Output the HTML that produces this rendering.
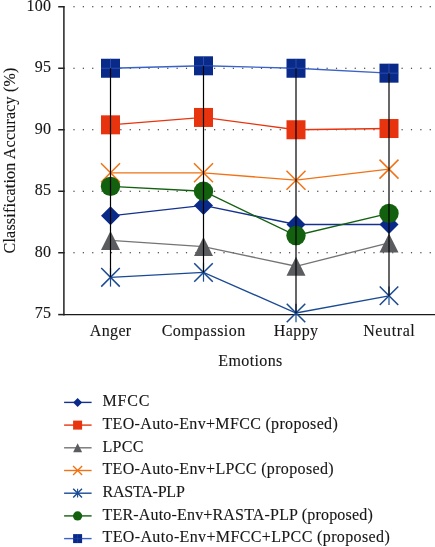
<!DOCTYPE html>
<html><head><meta charset="utf-8"><style>
html,body{margin:0;padding:0;background:#fff;width:435px;height:547px;overflow:hidden}
svg text{-webkit-font-smoothing:antialiased;stroke:#161616;stroke-width:0.12px}
svg{will-change:transform}
</style></head><body><svg width="435" height="547" viewBox="0 0 435 547" style="position:absolute;left:0;top:0;font-family:'Liberation Serif',serif" fill="#161616"><line x1="73.4" y1="6.75" x2="435" y2="6.75" stroke="#1a1a1a" stroke-width="1.1" stroke-dasharray="1.2 8.175"/><line x1="73.4" y1="68.25" x2="435" y2="68.25" stroke="#1a1a1a" stroke-width="1.1" stroke-dasharray="1.2 8.175"/><line x1="73.4" y1="129.75" x2="435" y2="129.75" stroke="#1a1a1a" stroke-width="1.1" stroke-dasharray="1.2 8.175"/><line x1="73.4" y1="191.25" x2="435" y2="191.25" stroke="#1a1a1a" stroke-width="1.1" stroke-dasharray="1.2 8.175"/><line x1="73.4" y1="252.75" x2="435" y2="252.75" stroke="#1a1a1a" stroke-width="1.1" stroke-dasharray="1.2 8.175"/><line x1="63.9" y1="6.15" x2="63.9" y2="315.20" stroke="#222" stroke-width="1.5"/><line x1="63.2" y1="314.60" x2="435" y2="314.60" stroke="#1a1a1a" stroke-width="1.3"/><line x1="58.2" y1="6.75" x2="64.6" y2="6.75" stroke="#222" stroke-width="1.5"/><line x1="58.2" y1="68.25" x2="64.6" y2="68.25" stroke="#222" stroke-width="1.5"/><line x1="58.2" y1="129.75" x2="64.6" y2="129.75" stroke="#222" stroke-width="1.5"/><line x1="58.2" y1="191.25" x2="64.6" y2="191.25" stroke="#222" stroke-width="1.5"/><line x1="58.2" y1="252.75" x2="64.6" y2="252.75" stroke="#222" stroke-width="1.5"/><line x1="58.2" y1="314.60" x2="64.6" y2="314.60" stroke="#222" stroke-width="1.5"/><polyline points="110.50,215.85 203.50,205.40 296.00,224.46 389.00,224.46" fill="none" stroke="#14318f" stroke-width="1.35"/><polyline points="110.50,124.83 203.50,117.45 296.00,129.75 389.00,128.52" fill="none" stroke="#e8340f" stroke-width="1.35"/><polyline points="110.50,240.45 203.50,246.60 296.00,266.28 389.00,242.91" fill="none" stroke="#747474" stroke-width="1.35"/><polyline points="110.50,172.80 203.50,172.80 296.00,180.18 389.00,169.11" fill="none" stroke="#f07214" stroke-width="1.35"/><polyline points="110.50,277.35 203.50,272.43 296.00,313.02 389.00,295.80" fill="none" stroke="#1a4a94" stroke-width="1.35"/><polyline points="110.50,186.33 203.50,191.25 296.00,235.53 389.00,213.39" fill="none" stroke="#13600f" stroke-width="1.35"/><polyline points="110.50,68.25 203.50,65.79 296.00,68.25 389.00,73.17" fill="none" stroke="#3b62c6" stroke-width="1.35"/><path d="M101.00,215.85L110.50,206.35L120.00,215.85L110.50,225.35Z" fill="#0a2a8a"/><path d="M194.00,205.40L203.50,195.90L213.00,205.40L203.50,214.90Z" fill="#0a2a8a"/><path d="M286.50,224.46L296.00,214.96L305.50,224.46L296.00,233.96Z" fill="#0a2a8a"/><path d="M379.50,224.46L389.00,214.96L398.50,224.46L389.00,233.96Z" fill="#0a2a8a"/><rect x="101.00" y="115.33" width="19.00" height="19.00" fill="#e8330f"/><rect x="194.00" y="107.95" width="19.00" height="19.00" fill="#e8330f"/><rect x="286.50" y="120.25" width="19.00" height="19.00" fill="#e8330f"/><rect x="379.50" y="119.02" width="19.00" height="19.00" fill="#e8330f"/><path d="M101.00,249.95L110.50,230.95L120.00,249.95Z" fill="#5a5c5f"/><path d="M194.00,256.10L203.50,237.10L213.00,256.10Z" fill="#5a5c5f"/><path d="M286.50,275.78L296.00,256.78L305.50,275.78Z" fill="#5a5c5f"/><path d="M379.50,252.41L389.00,233.41L398.50,252.41Z" fill="#5a5c5f"/><path d="M101.00,163.30L120.00,182.30M120.00,163.30L101.00,182.30" stroke="#f07214" stroke-width="1.50" fill="none"/><path d="M194.00,163.30L213.00,182.30M213.00,163.30L194.00,182.30" stroke="#f07214" stroke-width="1.50" fill="none"/><path d="M286.50,170.68L305.50,189.68M305.50,170.68L286.50,189.68" stroke="#f07214" stroke-width="1.50" fill="none"/><path d="M379.50,159.61L398.50,178.61M398.50,159.61L379.50,178.61" stroke="#f07214" stroke-width="1.50" fill="none"/><path d="M101.24,268.09L119.76,286.61M119.76,268.09L101.24,286.61" stroke="#1a4a94" stroke-width="1.50" fill="none"/><path d="M110.50,268.09L110.50,286.61" stroke="#1a4a94" stroke-width="1.20" fill="none"/><path d="M194.24,263.17L212.76,281.69M212.76,263.17L194.24,281.69" stroke="#1a4a94" stroke-width="1.50" fill="none"/><path d="M203.50,263.17L203.50,281.69" stroke="#1a4a94" stroke-width="1.20" fill="none"/><path d="M286.74,303.76L305.26,322.28M305.26,303.76L286.74,322.28" stroke="#1a4a94" stroke-width="1.50" fill="none"/><path d="M296.00,303.76L296.00,322.28" stroke="#1a4a94" stroke-width="1.20" fill="none"/><path d="M379.74,286.54L398.26,305.06M398.26,286.54L379.74,305.06" stroke="#1a4a94" stroke-width="1.50" fill="none"/><path d="M389.00,286.54L389.00,305.06" stroke="#1a4a94" stroke-width="1.20" fill="none"/><circle cx="110.50" cy="186.33" r="9.69" fill="#13600f"/><circle cx="203.50" cy="191.25" r="9.69" fill="#13600f"/><circle cx="296.00" cy="235.53" r="9.69" fill="#13600f"/><circle cx="389.00" cy="213.39" r="9.69" fill="#13600f"/><rect x="101.00" y="58.75" width="19.00" height="19.00" fill="#0a2a8a"/><path d="M101.00,68.25H120.00M110.50,58.75V77.75" stroke="#3e63c4" stroke-width="0.76" opacity="0.8"/><rect x="194.00" y="56.29" width="19.00" height="19.00" fill="#0a2a8a"/><path d="M194.00,65.79H213.00M203.50,56.29V75.29" stroke="#3e63c4" stroke-width="0.76" opacity="0.8"/><rect x="286.50" y="58.75" width="19.00" height="19.00" fill="#0a2a8a"/><path d="M286.50,68.25H305.50M296.00,58.75V77.75" stroke="#3e63c4" stroke-width="0.76" opacity="0.8"/><rect x="379.50" y="63.67" width="19.00" height="19.00" fill="#0a2a8a"/><path d="M379.50,73.17H398.50M389.00,63.67V82.67" stroke="#3e63c4" stroke-width="0.76" opacity="0.8"/><line x1="110.50" y1="68.25" x2="110.50" y2="277.35" stroke="#000" stroke-width="1.2"/><line x1="203.50" y1="65.79" x2="203.50" y2="272.43" stroke="#000" stroke-width="1.2"/><line x1="296.00" y1="68.25" x2="296.00" y2="313.02" stroke="#000" stroke-width="1.2"/><line x1="389.00" y1="73.17" x2="389.00" y2="295.80" stroke="#000" stroke-width="1.2"/><text x="51.05" y="10.85" text-anchor="end" font-size="16" letter-spacing="0.15">100</text><text x="51.05" y="72.35" text-anchor="end" font-size="16" letter-spacing="0.15">95</text><text x="51.05" y="133.85" text-anchor="end" font-size="16" letter-spacing="0.15">90</text><text x="51.05" y="195.35" text-anchor="end" font-size="16" letter-spacing="0.15">85</text><text x="51.05" y="256.85" text-anchor="end" font-size="16" letter-spacing="0.15">80</text><text x="51.05" y="318.35" text-anchor="end" font-size="16" letter-spacing="0.15">75</text><text x="110.67" y="336" text-anchor="middle" font-size="16" letter-spacing="0.35">Anger</text><text x="203.75" y="336" text-anchor="middle" font-size="16" letter-spacing="0.5">Compassion</text><text x="296.20" y="336" text-anchor="middle" font-size="16" letter-spacing="0.4">Happy</text><text x="389.30" y="336" text-anchor="middle" font-size="16" letter-spacing="0.6">Neutral</text><text x="250.49" y="365.6" text-anchor="middle" font-size="16" letter-spacing="0.37">Emotions</text><text transform="translate(15.3,160.40) rotate(-90)" text-anchor="middle" font-size="16" letter-spacing="0.21">Classification Accuracy (%)</text><line x1="64.1" y1="402.40" x2="91.6" y2="402.40" stroke="#14318f" stroke-width="1.4"/><path d="M73.10,402.40L77.60,397.90L82.10,402.40L77.60,406.90Z" fill="#0a2a8a"/><text x="102.5" y="406.10" font-size="16" letter-spacing="0.81">MFCC</text><line x1="64.1" y1="425.10" x2="91.6" y2="425.10" stroke="#e8340f" stroke-width="1.4"/><rect x="73.10" y="420.60" width="9.00" height="9.00" fill="#e8330f"/><text x="102.5" y="428.80" font-size="16" letter-spacing="0.33">TEO-Auto-Env+MFCC (proposed)</text><line x1="64.1" y1="447.80" x2="91.6" y2="447.80" stroke="#747474" stroke-width="1.4"/><path d="M73.10,452.30L77.60,443.30L82.10,452.30Z" fill="#5a5c5f"/><text x="102.5" y="451.50" font-size="16" letter-spacing="0.28">LPCC</text><line x1="64.1" y1="470.50" x2="91.6" y2="470.50" stroke="#f07214" stroke-width="1.4"/><path d="M73.10,466.00L82.10,475.00M82.10,466.00L73.10,475.00" stroke="#f07214" stroke-width="1.40" fill="none"/><text x="102.5" y="474.20" font-size="16" letter-spacing="0.34">TEO-Auto-Env+LPCC (proposed)</text><line x1="64.1" y1="493.20" x2="91.6" y2="493.20" stroke="#1a4a94" stroke-width="1.4"/><path d="M73.21,488.81L81.99,497.59M81.99,488.81L73.21,497.59" stroke="#1a4a94" stroke-width="1.40" fill="none"/><path d="M77.60,488.81L77.60,497.59" stroke="#1a4a94" stroke-width="1.12" fill="none"/><text x="102.5" y="496.90" font-size="16" letter-spacing="-0.22">RASTA-PLP</text><line x1="64.1" y1="515.90" x2="91.6" y2="515.90" stroke="#13600f" stroke-width="1.4"/><circle cx="77.60" cy="515.90" r="4.59" fill="#13600f"/><text x="102.5" y="519.60" font-size="16" letter-spacing="0.18">TER-Auto-Env+RASTA-PLP (proposed)</text><line x1="64.1" y1="538.60" x2="91.6" y2="538.60" stroke="#3b62c6" stroke-width="1.4"/><rect x="73.10" y="534.10" width="9.00" height="9.00" fill="#0a2a8a"/><path d="M73.10,538.60H82.10M77.60,534.10V543.10" stroke="#3e63c4" stroke-width="0.36" opacity="0.8"/><text x="102.5" y="542.30" font-size="16" letter-spacing="0.37">TEO-Auto-Env+MFCC+LPCC (proposed)</text></svg></body></html>
